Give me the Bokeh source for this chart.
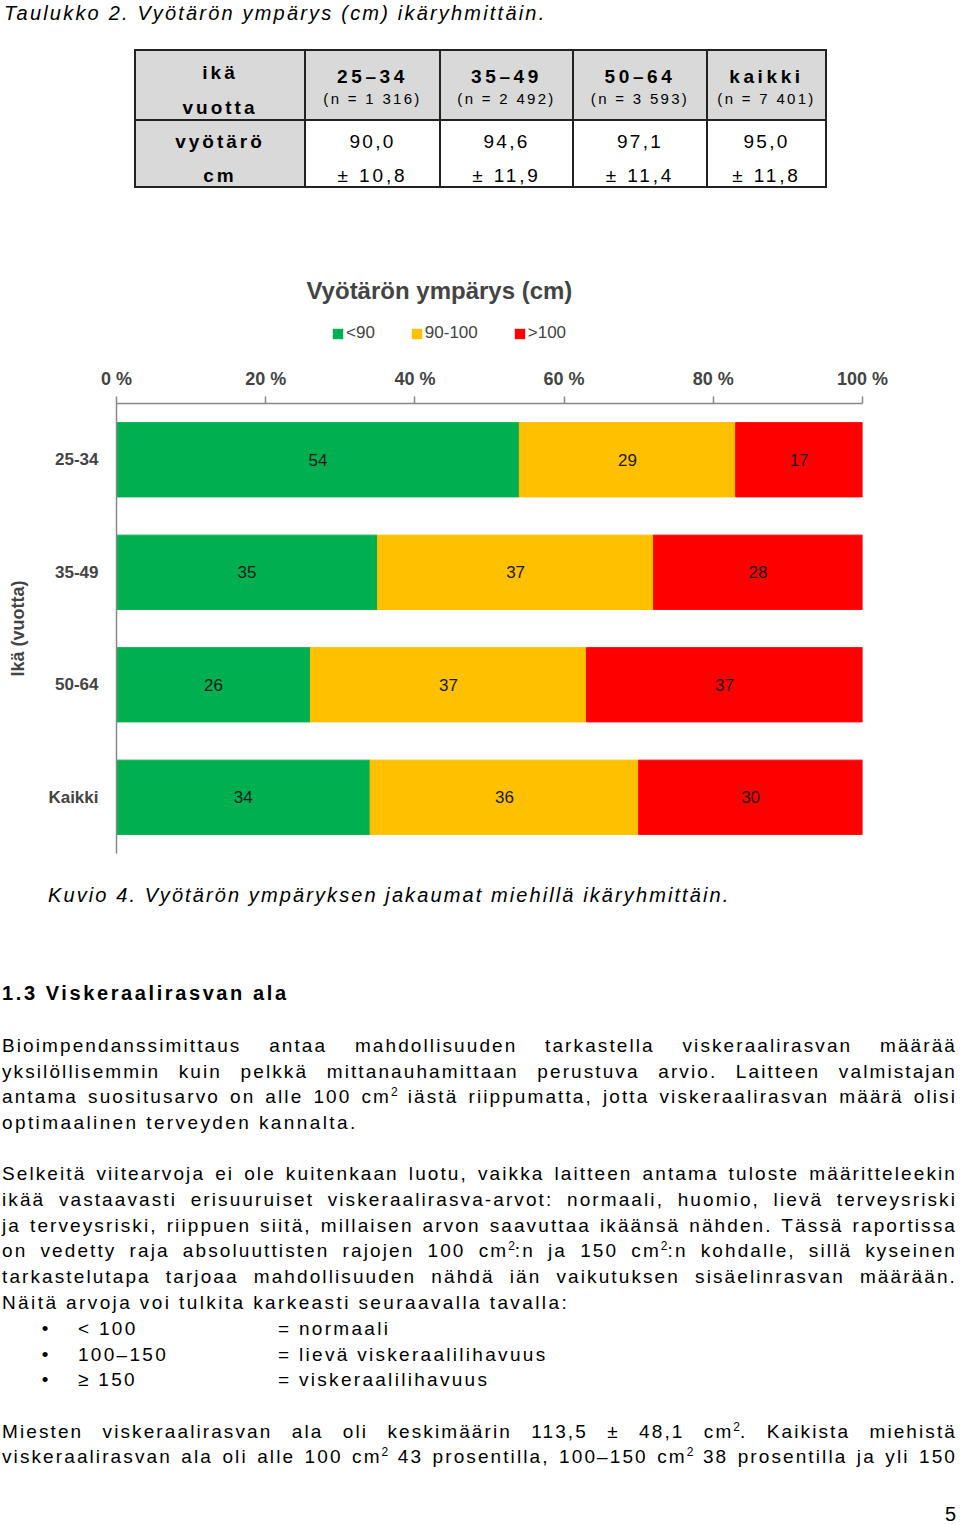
import numpy as np
from bokeh.plotting import figure
from bokeh.models import (ColumnDataSource, FactorRange, Range1d, FixedTicker,
                          Legend, LegendItem, Div)
from bokeh.layouts import column
from bokeh.core.properties import value
from bokeh.embed import file_html
from bokeh.resources import INLINE

# ---------------- data ----------------
age_groups = ["25-34", "35-49", "50-64", "Kaikki"]
lt90 = [54, 35, 26, 34]
w90_100 = [29, 37, 37, 36]
gt100 = [17, 28, 37, 30]
series_keys = ["lt90", "w90_100", "gt100"]
series_names = ["<90", "90-100", ">100"]
series_colors = ["#00B050", "#FFC000", "#FF0000"]
x_ticks = [0, 20, 40, 60, 80, 100]
x_tick_labels = ["0 %", "20 %", "40 %", "60 %", "80 %", "100 %"]
chart_title = "Vyötärön ympärys (cm)"
y_axis_title = "Ikä (vuotta)"

table_title = "Taulukko 2. Vyötärön ympärys (cm) ikäryhmittäin."
table_groups = ["25–34", "35–49", "50–64", "kaikki"]
table_n = ["(n = 1 316)", "(n = 2 492)", "(n = 3 593)", "(n = 7 401)"]
table_mean = ["90,0", "94,6", "97,1", "95,0"]
table_sd = ["± 10,8", "± 11,9", "± 11,4", "± 11,8"]

FONT = "Liberation Sans"
CSSFONT = "'Liberation Sans', Arial, Helvetica, sans-serif"
W = 960


def txt(x, cy, html, size=19, weight="normal", style="normal", ls=1.5,
        align="left", width=None, justify=False, color="#000"):
    lh = round(size * 1.3)
    top = cy - lh / 2.0
    if align == "center":
        w = width or 400
        left = x - w / 2.0
    elif align == "right":
        w = width or 400
        left = x - w
    else:
        w = width or 880
        left = x
    ta = "justify" if justify else align
    return (f'<div style="position:absolute;left:{left}px;top:{top}px;width:{w}px;'
            f'height:{lh}px;line-height:{lh}px;font-family:{CSSFONT};font-size:{size}px;'
            f'font-weight:{weight};font-style:{style};letter-spacing:{ls}px;color:{color};'
            f'white-space:nowrap;text-align:{ta};text-align-last:{ta};">{html}</div>')


def box(x0, y0, x1, y1, bg="none", border=None):
    b = f"border:{border};" if border else ""
    return (f'<div style="position:absolute;left:{x0}px;top:{y0}px;width:{x1-x0}px;'
            f'height:{y1-y0}px;background:{bg};{b}box-sizing:border-box;"></div>')


# vertical plan of the page (page pixels)
HEAD_TOP, CH_TOP, CH_BOT, PAGE_BOT = 269, 355, 870, 1525
FRAME_TOP, FRAME_BOT, FRAME_L, FRAME_R = 403, 853, 116, 862

# ---------------- top part: table title + table ----------------
parts = []
parts.append(txt(4, 13, table_title, size=20, style="italic", ls=2.2))
col_edges = [135, 305, 440, 573, 707, 826]
row_edges = [50, 120, 187]
gray = "#D9D9D9"
parts.append(box(col_edges[0], row_edges[0], col_edges[-1], row_edges[1], bg=gray))
parts.append(box(col_edges[0], row_edges[1], col_edges[1], row_edges[2], bg=gray))
for cx in col_edges[1:-1]:
    parts.append(box(cx - 1, row_edges[0], cx + 1, row_edges[2], bg="#222"))
parts.append(box(col_edges[0], row_edges[1] - 1, col_edges[-1], row_edges[1] + 1, bg="#222"))
parts.append(box(col_edges[0] - 1, row_edges[0] - 1, col_edges[-1] + 1, row_edges[2] + 1,
                 border="2.5px solid #222"))
c0 = (col_edges[0] + col_edges[1]) / 2
parts.append(txt(c0, 72, "ikä", size=19, weight="bold", ls=3.0, align="center", width=160))
parts.append(txt(c0, 107, "vuotta", size=19, weight="bold", ls=3.0, align="center", width=160))
parts.append(txt(c0, 141, "vyötärö", size=19, weight="bold", ls=3.0, align="center", width=160))
parts.append(txt(c0, 175, "cm", size=19, weight="bold", ls=3.0, align="center", width=160))
for i in range(4):
    cx = (col_edges[i + 1] + col_edges[i + 2]) / 2
    parts.append(txt(cx, 76, table_groups[i], size=19, weight="bold", ls=3.6, align="center", width=130))
    parts.append(txt(cx, 99, table_n[i], size=15, ls=2.3, align="center", width=130))
    parts.append(txt(cx, 141, table_mean[i], size=19, ls=2.3, align="center", width=130))
    parts.append(txt(cx, 175, table_sd[i], size=19, ls=2.9, align="center", width=130))

div_top = Div(text='<div style="position:relative;width:%dpx;height:%dpx;">%s</div>' % (W, HEAD_TOP, "".join(parts)),
              width=W, height=HEAD_TOP, margin=0, styles={"overflow": "visible"})

# ---------------- chart header: title + legend ----------------
ph = figure(width=W, height=CH_TOP - HEAD_TOP, x_range=Range1d(0, 100),
            y_range=FactorRange(factors=list(reversed(age_groups))),
            x_axis_type=None, y_axis_type=None, output_backend="svg", toolbar_location=None,
            min_border_left=FRAME_L, min_border_right=W - FRAME_R, min_border_top=0, min_border_bottom=0)
ph.outline_line_color = None
# legend keys: zero-width bars that carry the series colours
key_rs = [ph.hbar(y=[age_groups[0]], left=[0], right=[0], height=0.66, fill_color=c, line_color=None)
          for c in series_colors]
legend = Legend(items=[LegendItem(label=n, renderers=[r]) for n, r in zip(series_names, key_rs)],
                orientation="horizontal", location=(331 - FRAME_L, CH_TOP - 343),
                glyph_width=13, glyph_height=13, label_text_font=FONT,
                label_text_font_size="17px", label_standoff=2, spacing=35, label_height=18,
                padding=0, margin=0, border_line_color=None, background_fill_alpha=0)
ph.add_layout(legend, "center")
ph.title.text = chart_title
ph.title.text_font = FONT
ph.title.text_font_size = "24px"
ph.title.text_font_style = "bold"
ph.title.align = "left"
ph.title.offset = 306 - FRAME_L

# ---------------- chart ----------------
p = figure(width=W, height=CH_BOT - CH_TOP,
           y_range=FactorRange(factors=list(reversed(age_groups))),
           x_range=Range1d(0, 100), x_axis_location="above",
           output_backend="svg", toolbar_location=None,
           min_border_left=FRAME_L, min_border_right=W - FRAME_R,
           min_border_top=FRAME_TOP - CH_TOP, min_border_bottom=CH_BOT - FRAME_BOT)
p.outline_line_color = None
p.xgrid.visible = False
p.ygrid.visible = False

source = ColumnDataSource(dict(age=age_groups, lt90=lt90, w90_100=w90_100, gt100=gt100))
rs = p.hbar_stack(series_keys, y="age", height=0.66, color=series_colors, source=source)

arr = np.array([lt90, w90_100, gt100], dtype=float)
lefts = np.cumsum(arr, axis=0) - arr
centers = lefts + arr / 2
lab_x, lab_y, lab_t = [], [], []
for s in range(arr.shape[0]):
    for g in range(arr.shape[1]):
        lab_x.append(float(centers[s, g]))
        lab_y.append(age_groups[g])
        lab_t.append("%d" % arr[s, g])
p.text(x=lab_x, y=lab_y, text=lab_t, text_align="center", text_baseline="middle",
       text_font=value(FONT), text_font_size="17px", text_color="#1a1a1a")

xa = p.xaxis[0]
xa.ticker = FixedTicker(ticks=x_ticks)
xa.major_label_overrides = {t: l for t, l in zip(x_ticks, x_tick_labels)}
xa.major_tick_out = 7
xa.major_tick_in = 0
xa.minor_tick_out = 0
xa.minor_tick_in = 0
xa.major_label_standoff = 8
xa.major_label_text_font = FONT
xa.major_label_text_font_size = "18px"
xa.major_label_text_font_style = "bold"
xa.axis_line_color = "#888888"
xa.axis_line_width = 1.5
xa.major_tick_line_color = "#888888"
xa.major_tick_line_width = 1.5

ya = p.yaxis[0]
ya.major_tick_line_color = None
ya.minor_tick_line_color = None
ya.major_label_standoff = 12
ya.major_label_text_font = FONT
ya.major_label_text_font_size = "17px"
ya.major_label_text_font_style = "bold"
ya.axis_line_color = "#888888"
ya.axis_line_width = 1.5
ya.axis_label = y_axis_title
ya.axis_label_text_font = FONT
ya.axis_label_text_font_size = "18px"
ya.axis_label_text_font_style = "bold"
ya.axis_label_standoff = 17

# ---------------- bottom part: caption + body text ----------------
BY = CH_BOT
B = []
sup = '<span style="font-size:12px;position:relative;top:-7px;letter-spacing:0;">2</span>'
B.append(txt(48, 895 - BY, "Kuvio 4. Vyötärön ympäryksen jakaumat miehillä ikäryhmittäin.",
             size=20, style="italic", ls=2.1))
B.append(txt(2, 993 - BY, "1.3 Viskeraalirasvan ala", size=20, weight="bold", ls=2.6))
LX, LW = 2, 955
body = [
    (1045, "Bioimpendanssimittaus antaa mahdollisuuden tarkastella viskeraalirasvan määrää", True),
    (1071, "yksilöllisemmin kuin pelkkä mittanauhamittaan perustuva arvio. Laitteen valmistajan", True),
    (1096, "antama suositusarvo on alle 100 cm" + sup + " iästä riippumatta, jotta viskeraalirasvan määrä olisi", True),
    (1122, "optimaalinen terveyden kannalta.", False),
    (1173, "Selkeitä viitearvoja ei ole kuitenkaan luotu, vaikka laitteen antama tuloste määritteleekin", True),
    (1199, "ikää vastaavasti erisuuruiset viskeraalirasva-arvot: normaali, huomio, lievä terveysriski", True),
    (1225, "ja terveysriski, riippuen siitä, millaisen arvon saavuttaa ikäänsä nähden. Tässä raportissa", True),
    (1250, "on vedetty raja absoluuttisten rajojen 100 cm" + sup + ":n ja 150 cm" + sup + ":n kohdalle, sillä kyseinen", True),
    (1276, "tarkastelutapa tarjoaa mahdollisuuden nähdä iän vaikutuksen sisäelinrasvan määrään.", True),
    (1302, "Näitä arvoja voi tulkita karkeasti seuraavalla tavalla:", False),
    (1431, "Miesten viskeraalirasvan ala oli keskimäärin 113,5 ± 48,1 cm" + sup + ". Kaikista miehistä", True),
    (1456, "viskeraalirasvan ala oli alle 100 cm" + sup + " 43 prosentilla, 100–150 cm" + sup + " 38 prosentilla ja yli 150", True),
]
for cy, t, j in body:
    B.append(txt(LX, cy - BY, t, size=19, ls=(2.1 if j else 2.4), width=LW, justify=j))
bullets = [(1328, "&lt; 100", "= normaali"),
           (1354, "100–150", "= lievä viskeraalilihavuus"),
           (1379, "≥ 150", "= viskeraalilihavuus")]
for cy, a, b in bullets:
    B.append(txt(45, cy - BY, "•", size=19, ls=0, align="center", width=20))
    B.append(txt(78, cy - BY, a, size=19, ls=2.3, width=190))
    B.append(txt(278, cy - BY, b, size=19, ls=2.3, width=500))
B.append(txt(956, 1514 - BY, "5", size=20, ls=0, align="right", width=40))

BOT_H = PAGE_BOT - BY
div_bot = Div(text='<div style="position:relative;width:%dpx;height:%dpx;">%s</div>' % (W, BOT_H, "".join(B)),
              width=W, height=BOT_H, margin=0, styles={"overflow": "visible"})

layout = column(div_top, ph, p, div_bot, spacing=0)
open("out.html", "w").write(file_html(layout, INLINE))
